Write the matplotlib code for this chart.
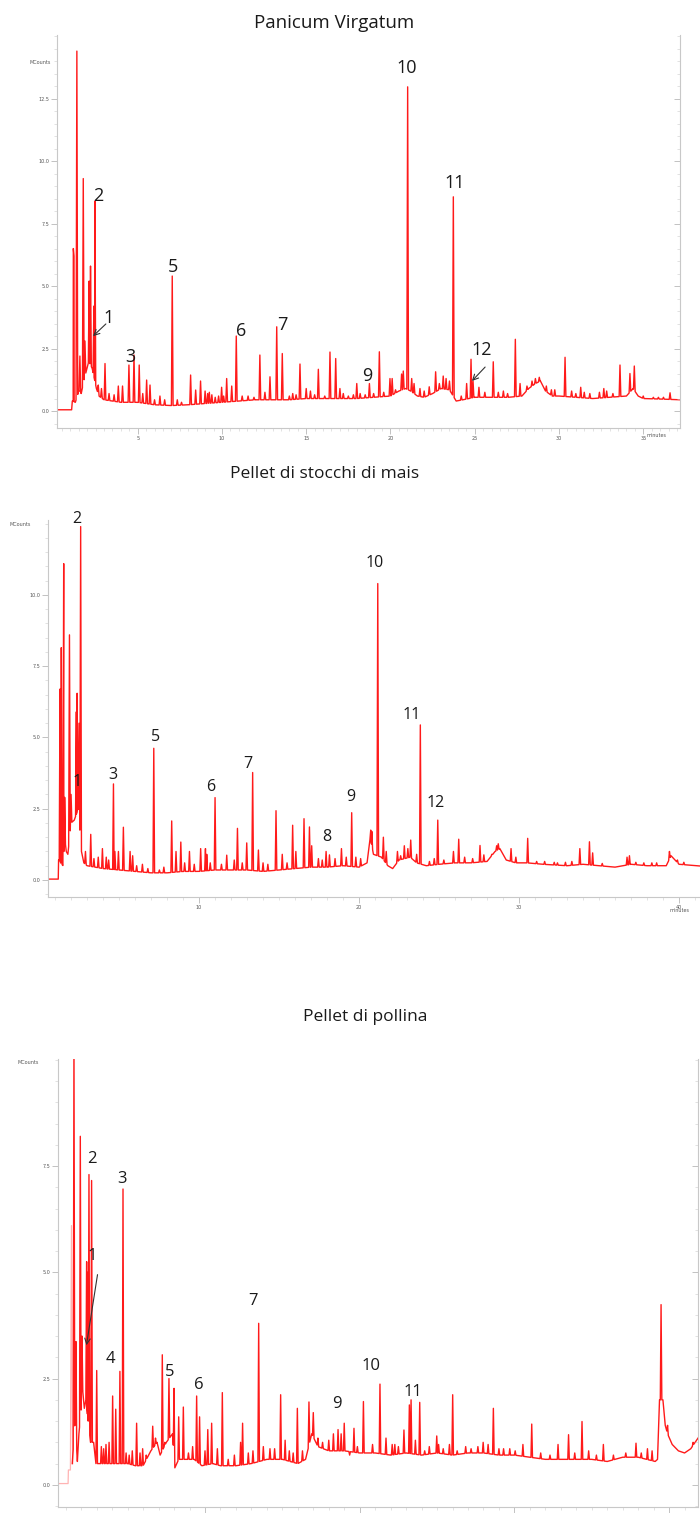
import numpy as np
import matplotlib
matplotlib.use('Agg')
import matplotlib.pyplot as plt
from matplotlib.ticker import MultipleLocator, FixedLocator, FormatStrFormatter, NullFormatter

# ---------------- data ----------------
# Panicum Virgatum
pv_base_t = [0.2, 1.08, 1.12, 1.3, 1.5, 1.65, 1.8, 1.95, 2.1, 2.3, 2.55, 2.7, 3.0, 3.5, 4.0, 5.0,
             6.0, 7.0, 8.0, 9.0, 10.0, 11.0, 12.0, 13.0, 14.0, 15.0, 16.0, 17.0, 18.0, 19.0, 20.0,
             20.5, 20.9, 21.2, 21.6, 22.0, 22.5, 23.0, 23.5, 23.9, 24.3, 25.0, 26.0, 27.0, 27.8,
             28.2, 28.6, 28.9, 29.2, 29.6, 30.0, 31.0, 32.0, 33.0, 34.0, 34.4, 34.7, 35.0, 36.0, 37.2]
pv_base_v = [0.05, 0.05, 0.4, 0.35, 0.8, 0.7, 1.2, 1.6, 2.0, 1.7, 0.9, 0.6, 0.45, 0.4, 0.35, 0.35,
             0.25, 0.22, 0.25, 0.3, 0.35, 0.4, 0.45, 0.45, 0.45, 0.5, 0.5, 0.5, 0.5, 0.55, 0.6,
             0.8, 0.9, 0.8, 0.6, 0.55, 0.7, 0.9, 0.85, 0.4, 0.45, 0.55, 0.55, 0.55, 0.6,
             0.9, 1.1, 1.2, 0.8, 0.6, 0.6, 0.55, 0.5, 0.55, 0.6, 0.9, 0.6, 0.5, 0.48, 0.45]
pv_peak_t = [1.18, 1.22, 1.39, 1.57, 1.77, 1.87, 2.12, 2.2, 2.4, 2.46, 2.66, 2.85, 3.06, 3.3, 3.6,
             3.85, 4.1, 4.48, 4.78, 5.09, 5.3, 5.53, 5.73, 6.0, 6.32, 6.6, 7.05, 7.35, 7.6, 8.14,
             8.44, 8.73, 9.0, 9.15, 9.25, 9.4, 9.6, 9.8, 9.98, 10.1, 10.28, 10.58, 10.85, 11.2,
             11.55, 11.9, 12.25, 12.55, 12.85, 13.25, 13.58, 14.0, 14.2, 14.4, 14.63, 15.0,
             15.25, 15.5, 15.72, 16.1, 16.41, 16.75, 17.0, 17.2, 17.5, 17.8, 18.0, 18.2, 18.5,
             18.75, 19.0, 19.34, 19.6, 19.97, 20.1, 20.3, 20.66, 20.76, 21.02, 21.26, 21.4, 21.75,
             22.0, 22.3, 22.68, 22.9, 23.13, 23.3, 23.5, 23.73, 24.2, 24.52, 24.78, 24.9, 25.25,
             25.6, 26.1, 26.4, 26.7, 26.95, 27.41, 27.69, 28.1, 28.4, 28.6, 28.83, 29.25, 29.55,
             29.75, 30.36, 30.75, 31.0, 31.29, 31.5, 31.83, 32.4, 32.66, 32.83, 33.2, 33.62,
             34.21, 34.47, 35.0, 35.6, 35.9, 36.2, 36.59]
pv_peak_v = [6.5, 6.2, 14.4, 2.2, 9.3, 2.8, 5.2, 5.8, 4.2, 8.4, 1.04, 0.9, 1.9, 0.7, 0.65,
             1.0, 1.0, 1.84, 2.24, 1.84, 0.7, 1.24, 1.04, 0.45, 0.6, 0.45, 5.4, 0.45, 0.35, 1.44,
             0.84, 1.2, 0.8, 0.7, 0.75, 0.65, 0.55, 0.6, 0.95, 0.6, 1.3, 1.0, 3.0, 0.6,
             0.6, 0.55, 2.24, 0.75, 1.37, 3.37, 2.3, 0.6, 0.7, 0.65, 1.88, 0.9,
             0.8, 0.65, 1.67, 0.6, 2.36, 2.1, 0.9, 0.7, 0.6, 0.65, 1.1, 0.7, 0.65,
             1.1, 0.7, 2.37, 0.75, 1.3, 1.3, 0.85, 1.48, 1.6, 12.97, 1.3, 1.1, 0.9,
             0.8, 0.97, 1.57, 1.1, 1.4, 1.3, 1.2, 8.57, 0.6, 1.1, 2.07, 1.2, 0.95,
             0.75, 1.97, 0.75, 0.8, 0.7, 2.87, 1.1, 1.0, 1.2, 1.3, 1.35, 1.0, 0.85,
             0.85, 2.15, 0.8, 0.7, 0.95, 0.75, 0.7, 0.75, 0.9, 0.8, 0.7, 1.84,
             1.5, 1.8, 0.6, 0.55, 0.55, 0.55, 0.73]
pv_labels = ['1', '2', '3', '5', '6', '7', '9', '10', '11', '12']
pv_label_t = [3.29, 2.64, 4.54, 7.09, 11.13, 13.56, 18.61, 20.98, 23.83, 25.43]
pv_label_v = [3.72, 8.6, 2.16, 5.76, 3.2, 3.44, 1.4, 13.72, 9.12, 2.44]
pv_arrows = [((3.23, 3.56), (2.23, 2.92)), ((25.73, 1.84), (24.72, 1.12))]

# Pellet di stocchi di mais
sm_base_t = [0.56, 1.2, 1.22, 1.35, 1.5, 1.6, 1.7, 1.8, 2.0, 2.2, 2.45, 2.65, 2.8, 3.0, 3.5, 4.0,
             5.0, 6.0, 7.0, 8.0, 9.0, 10.0, 11.0, 12.0, 13.0, 14.0, 15.0, 16.0, 17.0, 18.0, 19.0,
             20.0, 20.5, 20.7, 20.9, 21.4, 21.8, 22.1, 22.5, 23.2, 23.6, 24.2, 25.0, 26.0, 27.0,
             28.0, 28.5, 28.8, 29.2, 29.8, 30.5, 31.5, 33.0, 34.0, 35.0, 36.0, 37.0, 38.0, 39.2,
             39.5, 40.0, 41.31]
sm_base_v = [0.03, 0.03, 0.7, 0.6, 0.5, 1.5, 1.0, 0.9, 2.0, 2.1, 2.5, 1.0, 0.6, 0.5, 0.45, 0.4,
             0.35, 0.3, 0.25, 0.25, 0.3, 0.3, 0.35, 0.35, 0.35, 0.3, 0.35, 0.4, 0.45, 0.45, 0.5,
             0.45, 0.6, 1.5, 0.9, 0.8, 0.5, 0.4, 0.7, 0.8, 0.6, 0.5, 0.55, 0.6, 0.6,
             0.65, 1.0, 1.1, 0.7, 0.6, 0.6, 0.55, 0.5, 0.55, 0.5, 0.45, 0.55, 0.5, 0.5,
             0.85, 0.55, 0.49]
sm_peak_t = [1.31, 1.39, 1.54, 1.6, 1.9, 2.0, 2.33, 2.38, 2.5, 2.6, 2.9, 3.23, 3.43, 3.7, 3.96,
             4.2, 4.35, 4.65, 4.74, 4.96, 5.27, 5.69, 5.85, 6.1, 6.46, 6.8, 7.17, 7.52, 7.8, 8.29,
             8.56, 8.86, 9.1, 9.4, 9.7, 10.1, 10.4, 10.48, 10.7, 11.0, 11.4, 11.73, 12.2, 12.4,
             12.7, 12.98, 13.35, 13.71, 14.0, 14.3, 14.81, 15.2, 15.5, 15.85, 16.05, 16.56, 16.9,
             17.04, 17.46, 17.7, 17.94, 18.15, 18.5, 18.9, 19.2, 19.54, 19.8, 20.1, 20.73, 20.8,
             21.17, 21.52, 21.7, 22.4, 22.6, 22.83, 23.05, 23.23, 23.6, 23.83, 24.4, 24.7, 24.92,
             25.3, 25.9, 26.23, 26.6, 27.1, 27.56, 27.8, 28.3, 28.6, 28.7, 29.5, 29.8, 30.54,
             31.1, 31.6, 32.2, 32.4, 32.9, 33.3, 33.8, 34.4, 34.6, 35.2, 36.75, 36.9, 37.3, 37.8,
             38.3, 38.6, 39.4, 39.9, 40.3]
sm_peak_v = [6.7, 8.15, 11.1, 2.9, 8.6, 3.0, 5.9, 6.55, 5.5, 12.4, 1.0, 1.6, 0.75, 0.8, 1.1,
             0.8, 0.7, 3.37, 1.0, 1.0, 1.85, 1.0, 0.85, 0.5, 0.55, 0.4, 4.62, 0.35, 0.45, 2.07,
             1.0, 1.33, 0.6, 1.0, 0.55, 1.1, 1.1, 0.9, 0.6, 2.89, 0.55, 0.87, 0.7, 1.81,
             0.6, 1.3, 3.77, 1.05, 0.6, 0.55, 2.43, 0.9, 0.6, 1.92, 1.0, 2.15, 1.86,
             1.2, 0.75, 0.7, 1.0, 0.88, 0.75, 1.1, 0.8, 2.36, 0.8, 0.75, 1.75, 1.7,
             10.4, 1.5, 1.0, 1.0, 0.85, 1.2, 1.1, 1.4, 0.9, 5.44, 0.65, 0.75, 2.1,
             0.7, 1.0, 1.43, 0.8, 0.75, 1.21, 0.88, 0.9, 1.2, 1.27, 1.1, 0.8, 1.46,
             0.65, 0.65, 0.62, 0.6, 0.62, 0.65, 1.1, 1.34, 0.95, 0.58, 0.8, 0.85, 0.62, 0.6,
             0.6, 0.6, 1.0, 0.7, 0.62]
sm_labels = ['2', '1', '3', '5', '6', '7', '8', '9', '10', '11', '12']
sm_label_t = [2.38, 2.38, 4.63, 7.31, 10.75, 13.06, 18.0, 19.5, 21.0, 23.31, 24.81]
sm_label_v = [12.67, 3.44, 3.68, 5.02, 3.26, 4.07, 1.51, 2.91, 11.12, 5.79, 2.7]

# Pellet di pollina
po_faint_t = [0.5, 1.15, 1.17, 1.3, 1.37, 1.42, 1.45]
po_faint_v = [0.03, 0.03, 0.35, 0.35, 6.1, 1.8, 0.5]
po_base_t = [1.42, 1.6, 1.75, 1.85, 2.1, 2.2, 2.3, 2.6, 2.8, 2.95, 3.2, 4.0, 5.0, 5.5, 6.0, 6.5,
             6.9, 7.1, 7.5, 7.9, 8.05, 8.3, 8.8, 9.3, 9.8, 10.5, 11.0, 12.0, 13.0, 14.0, 15.0,
             16.0, 16.5, 16.9, 17.3, 18.0, 19.0, 20.0, 21.0, 22.0, 23.0, 24.0, 25.0, 26.0, 27.0,
             28.0, 29.0, 30.0, 31.0, 32.0, 33.0, 34.0, 35.0, 36.0, 37.0, 38.0, 39.1, 39.25, 39.38,
             39.6, 39.75, 39.9, 40.2, 40.6, 41.0, 41.4, 41.87]
po_base_v = [0.5, 1.5, 0.55, 1.2, 2.2, 1.8, 2.0, 1.0, 1.0, 0.5, 0.5, 0.5, 0.5, 0.45, 0.45, 0.8,
             1.0, 0.7, 1.0, 1.2, 0.4, 0.6, 0.6, 0.6, 0.45, 0.5, 0.45, 0.45, 0.5, 0.6, 0.6,
             0.5, 0.6, 1.2, 0.9, 0.8, 0.8, 0.75, 0.75, 0.7, 0.75, 0.7, 0.75, 0.7, 0.75,
             0.75, 0.7, 0.7, 0.65, 0.6, 0.6, 0.6, 0.6, 0.55, 0.65, 0.65, 0.55, 0.6, 2.0,
             2.0, 1.4, 1.2, 0.95, 0.8, 0.75, 0.85, 1.1]
po_peak_t = [1.53, 1.66, 1.94, 2.05, 2.35, 2.4, 2.5, 2.67, 3.0, 3.3, 3.45, 3.6, 3.8, 4.03, 4.23,
             4.5, 4.7, 4.9, 5.1, 5.3, 5.58, 5.8, 5.97, 6.2, 6.62, 6.8, 7.24, 7.4, 7.67, 8.0, 8.3,
             8.6, 8.93, 9.2, 9.46, 9.65, 10.0, 10.18, 10.43, 10.8, 11.12, 11.5, 11.9, 12.3, 12.43,
             12.8, 13.1, 13.47, 13.77, 14.2, 14.5, 14.89, 15.18, 15.45, 15.7, 15.97, 16.3, 16.72,
             17.0, 17.3, 17.6, 18.0, 18.3, 18.6, 18.8, 19.0, 19.35, 19.63, 19.85, 20.24, 20.55,
             20.83, 21.31, 21.7, 22.1, 22.27, 22.5, 22.86, 23.21, 23.32, 23.6, 23.88, 24.2, 24.5,
             24.98, 25.1, 25.4, 25.8, 26.01, 26.3, 26.85, 27.2, 27.64, 27.98, 28.3, 28.64, 29.0,
             29.3, 29.7, 30.05, 30.55, 31.12, 31.7, 32.3, 32.82, 33.5, 33.9, 34.37, 34.8, 35.3,
             35.75, 36.4, 37.2, 37.86, 38.2, 38.6, 38.9, 39.48, 39.9, 41.55]
po_peak_v = [10.5, 3.37, 8.2, 3.5, 5.25, 5.0, 7.3, 7.16, 2.69, 0.9, 0.85, 0.95, 1.0, 2.09, 1.78,
             2.67, 6.96, 0.75, 0.7, 0.8, 1.45, 0.75, 0.85, 0.7, 1.38, 1.1, 3.06, 1.0, 2.5, 2.27, 1.6,
             1.83, 0.75, 0.9, 2.09, 1.6, 0.8, 1.3, 1.45, 0.85, 2.17, 0.6, 0.7, 1.0, 1.45,
             0.75, 0.8, 3.8, 0.9, 0.85, 0.85, 2.12, 1.05, 0.8, 0.75, 1.8, 0.8, 1.95,
             1.7, 1.1, 1.0, 1.05, 1.2, 1.3, 1.2, 1.45, 0.7, 1.33, 0.9, 1.96, 0.75,
             0.95, 2.37, 1.1, 0.95, 0.95, 0.9, 1.29, 1.88, 2.0, 1.05, 1.94, 0.8, 0.9,
             1.15, 0.95, 0.85, 0.95, 2.12, 0.8, 0.9, 0.85, 0.9, 1.0, 0.95, 1.8, 0.85,
             0.85, 0.85, 0.8, 0.95, 1.43, 0.75, 0.7, 0.95, 1.18, 0.75, 1.49, 0.8, 0.7,
             0.95, 0.7, 0.75, 0.98, 0.75, 0.85, 0.8, 4.24, 1.4, 1.0]
po_labels = ['2', '3', '1', '4', '5', '6', '7', '9', '10', '11']
po_label_t = [2.7, 4.63, 2.7, 3.86, 7.74, 9.61, 13.1, 18.53, 20.73, 23.45]
po_label_v = [7.67, 7.2, 5.39, 2.96, 2.66, 2.35, 4.33, 1.91, 2.8, 2.19]
po_arrows = [((3.08, 5.01), (2.31, 3.22))]

RED = '#ff1a1a'
TXT = '#1a1a1a'
AXC = '#c8c8c8'
FONT = ['Open Sans', 'DejaVu Sans']


def build_trace(base_t, base_v, peak_t, peak_v, hw=0.05):
    """Baseline polyline with narrow spikes at the peak positions."""
    base_t = np.asarray(base_t, float)
    base_v = np.asarray(base_v, float)
    pk = np.asarray(peak_t, float)
    pts = [(t, v) for t, v in zip(base_t, base_v) if np.all(np.abs(pk - t) > hw)]
    for t, h in zip(peak_t, peak_v):
        for tt in (t - hw, t + hw):
            pts.append((tt, float(np.interp(tt, base_t, base_v))))
        pts.append((t, h))
    pts.sort(key=lambda p: p[0])
    return np.array(pts).T


def style_axes(ax, xlim, ylim, xmajor, xminor, yticks, right_spine):
    ax.set_xlim(*xlim)
    ax.set_ylim(*ylim)
    ax.spines['top'].set_visible(False)
    ax.spines['right'].set_visible(False)
    for s in ['left', 'bottom']:
        ax.spines[s].set_color(AXC)
        ax.spines[s].set_linewidth(0.8)
    ax.xaxis.set_major_locator(MultipleLocator(xmajor))
    ax.xaxis.set_minor_locator(MultipleLocator(xminor))
    ax.xaxis.set_major_formatter(FormatStrFormatter('%d'))
    ax.yaxis.set_major_locator(FixedLocator(yticks))
    ax.yaxis.set_minor_locator(MultipleLocator(0.5))
    ax.yaxis.set_major_formatter(FormatStrFormatter('%.1f'))
    ax.tick_params(axis='both', which='major', labelsize=3.5, labelcolor='#555555',
                   color='#aaaaaa', length=4, width=0.5, pad=1.5)
    ax.tick_params(axis='both', which='minor', color='#cccccc', length=2, width=0.4)
    ax.patch.set_alpha(0)
    if right_spine:
        # right-hand frame with inward ticks, no labels
        axr = ax.twinx()
        axr.set_ylim(*ylim)
        for s in ['top', 'left', 'bottom']:
            axr.spines[s].set_visible(False)
        axr.spines['right'].set_color(AXC)
        axr.spines['right'].set_linewidth(0.8)
        axr.yaxis.set_major_locator(FixedLocator(yticks))
        axr.yaxis.set_minor_locator(MultipleLocator(0.5))
        axr.yaxis.set_major_formatter(NullFormatter())
        axr.tick_params(axis='y', which='major', direction='in', color='#aaaaaa',
                        length=4, width=0.5)
        axr.tick_params(axis='y', which='minor', direction='in', color='#cccccc',
                        length=2, width=0.4)


def put_labels(ax, labels, lt, lv, size):
    for s, t, v in zip(labels, lt, lv):
        ax.text(t, v, s, ha='center', va='center', fontsize=size, color=TXT,
                family=FONT, clip_on=False, zorder=5)


fig = plt.figure(figsize=(7, 15.13), dpi=100)
fig.patch.set_facecolor('white')

# ---- panel 1 ----
ax1 = fig.add_axes([0.0814, 0.7171, 0.89, 0.2597])
t, v = build_trace(pv_base_t, pv_base_v, pv_peak_t, pv_peak_v)
ax1.plot(t, v, color=RED, lw=1.0)
style_axes(ax1, (0.21, 37.18), (-0.68, 15.04), 5, 0.5, [0, 2.5, 5, 7.5, 10, 12.5], True)
put_labels(ax1, pv_labels, pv_label_t, pv_label_v, 13)
for tail, tip in pv_arrows:
    ax1.annotate('', xy=tip, xytext=tail,
                 arrowprops=dict(arrowstyle='->', color='#333333', lw=0.8))
ax1.text(-0.027, 0.929, 'MCounts', transform=ax1.transAxes, fontsize=3.5,
         color='#555555', ha='center', va='center')
ax1.text(0.962, -0.012, 'minutes', transform=ax1.transAxes, fontsize=3.5,
         color='#555555', ha='center', va='top')
fig.text(0.477, 1 - 23 / 1513, 'Panicum Virgatum', ha='center', va='center',
         fontsize=13.5, color=TXT, family=FONT)

# ---- panel 2 ----
ax2 = fig.add_axes([0.0686, 0.4071, 0.9314, 0.2492])
t, v = build_trace(sm_base_t, sm_base_v, sm_peak_t, sm_peak_v)
ax2.plot(t, v, color=RED, lw=1.0)
style_axes(ax2, (0.56, 41.31), (-0.6, 12.63), 10, 1, [0, 2.5, 5, 7.5, 10], False)
put_labels(ax2, sm_labels, sm_label_t, sm_label_v, 11.5)
ax2.text(-0.043, 0.989, 'MCounts', transform=ax2.transAxes, fontsize=3.5,
         color='#555555', ha='center', va='center')
ax2.text(0.968, -0.03, 'minutes', transform=ax2.transAxes, fontsize=3.5,
         color='#555555', ha='center', va='top')
fig.text(0.463, 1 - 474 / 1513, 'Pellet di stocchi di mais', ha='center', va='center',
         fontsize=12.5, color=TXT, family=FONT)

# ---- panel 3 ----
ax3 = fig.add_axes([0.0829, 0.004, 0.9143, 0.2961])
ax3.plot(po_faint_t, po_faint_v, color='#ffb3b3', lw=0.9)
t, v = build_trace(po_base_t, po_base_v, po_peak_t, po_peak_v)
ax3.plot(t, v, color=RED, lw=1.0)
style_axes(ax3, (0.5, 41.87), (-0.52, 10.02), 10, 1, [0, 2.5, 5, 7.5], True)
put_labels(ax3, po_labels, po_label_t, po_label_v, 12)
for tail, tip in po_arrows:
    ax3.annotate('', xy=tip, xytext=tail,
                 arrowprops=dict(arrowstyle='->', color='#333333', lw=0.8))
ax3.text(-0.047, 0.993, 'MCounts', transform=ax3.transAxes, fontsize=3.5,
         color='#555555', ha='center', va='center')
fig.text(0.521, 1 - 1017 / 1513, 'Pellet di pollina', ha='center', va='center',
         fontsize=12.5, color=TXT, family=FONT)

fig.savefig('out.png', dpi=100, facecolor='white')
